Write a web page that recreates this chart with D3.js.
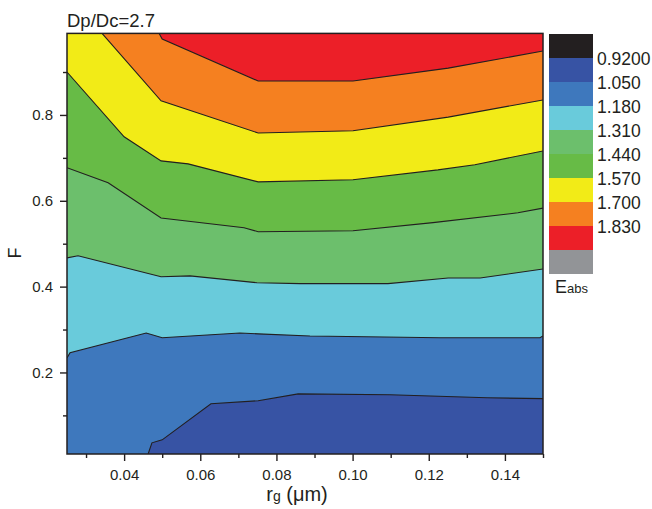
<!DOCTYPE html>
<html>
<head>
<meta charset="utf-8">
<script src="https://cdn.jsdelivr.net/npm/d3@7"></script>
<style>
  body { margin: 0; background: #fff; }
  text { font-family: "Liberation Sans", Arial, sans-serif; fill: #231f20; }
</style>
</head>
<body>
<div id="chart"></div>
<script>
// contour levels of Eabs and legend
const levels = [0.92, 1.05, 1.18, 1.31, 1.44, 1.57, 1.70, 1.83];
const levelLabels = ['0.9200', '1.050', '1.180', '1.310', '1.440', '1.570', '1.700', '1.830'];
const legendColors = ['#231f20', '#3753a4', '#3e78bd', '#69cbdb', '#6cbf6c', '#67bb46', '#f2eb17', '#f58020', '#ec1f28', '#929497'];

// contour lines, [rg (um), F]
const line105 = [[0.0463, 0.01], [0.0473, 0.036], [0.0500, 0.043], [0.0628, 0.127], [0.0752, 0.134], [0.0857, 0.150], [0.1098, 0.148], [0.1353, 0.141], [0.15, 0.139]];
const line118 = [[0.025, 0.234], [0.0258, 0.246], [0.0458, 0.292], [0.0500, 0.281], [0.0704, 0.292], [0.0752, 0.290], [0.0888, 0.285], [0.1230, 0.281], [0.1492, 0.281], [0.15, 0.285]];
const line131 = [[0.025, 0.467], [0.0279, 0.472], [0.0497, 0.423], [0.0573, 0.425], [0.0749, 0.409], [0.0862, 0.407], [0.1093, 0.407], [0.1251, 0.420], [0.1335, 0.420], [0.15, 0.441]];
const line144 = [[0.025, 0.677], [0.0358, 0.642], [0.0497, 0.560], [0.0715, 0.537], [0.0752, 0.528], [0.1001, 0.530], [0.1211, 0.549], [0.1434, 0.572], [0.15, 0.583]];
const line157 = [[0.025, 0.900], [0.0400, 0.749], [0.0497, 0.693], [0.0568, 0.686], [0.0752, 0.644], [0.1001, 0.649], [0.1224, 0.672], [0.1321, 0.684], [0.15, 0.716]];
const line170 = [[0.0342, 0.99], [0.0497, 0.833], [0.0752, 0.758], [0.1001, 0.763], [0.1251, 0.795], [0.15, 0.835]];
const line183 = [[0.0492, 0.99], [0.0500, 0.977], [0.0752, 0.879], [0.1001, 0.879], [0.1251, 0.909], [0.15, 0.949]];
const contourLines = [line105, line118, line131, line144, line157, line170, line183];

const xMajor = [0.04, 0.06, 0.08, 0.10, 0.12, 0.14];
const xMinor = [0.03, 0.05, 0.07, 0.09, 0.11, 0.13, 0.15];
const yMajor = [0.2, 0.4, 0.6, 0.8];
const yMinor = [0.1, 0.3, 0.5, 0.7, 0.9];

const xDomain = [0.025, 0.15];
const yDomain = [0.01, 0.99];

const svg = d3.select('#chart')
  .append('svg')
  .attr('width', 652)
  .attr('height', 509);

const x = d3.scaleLinear().domain(xDomain).range([67, 543]);
const y = d3.scaleLinear().domain(yDomain).range([454, 33.4]);

svg.append('clipPath')
  .attr('id', 'plot-clip')
  .append('rect')
  .attr('x', x(xDomain[0]))
  .attr('y', y(yDomain[1]))
  .attr('width', x(xDomain[1]) - x(xDomain[0]))
  .attr('height', y(yDomain[0]) - y(yDomain[1]));

const plot = svg.append('g').attr('clip-path', 'url(#plot-clip)');

// lowest band
plot.append('rect')
  .attr('x', x(xDomain[0]))
  .attr('y', y(yDomain[1]))
  .attr('width', x(xDomain[1]) - x(xDomain[0]))
  .attr('height', y(yDomain[0]) - y(yDomain[1]))
  .style('fill', legendColors[1]);

// region above each contour line, closed along the frame
const regionAbove = (pts) => {
  const start = pts[0];
  const poly = pts.slice();
  poly.push([xDomain[1], yDomain[1]]);
  if (start[1] < yDomain[1]) poly.push([xDomain[0], yDomain[1]]);
  if (start[1] <= yDomain[0] && start[0] > xDomain[0]) poly.push([xDomain[0], yDomain[0]]);
  return poly;
};

const lineGen = d3.line().x(d => x(d[0])).y(d => y(d[1]));

plot.selectAll('path.band')
  .data(contourLines)
  .enter()
  .append('path')
  .attr('class', 'band')
  .attr('d', d => lineGen(regionAbove(d)) + 'Z')
  .style('fill', (d, i) => legendColors[i + 2]);

plot.selectAll('path.contour')
  .data(contourLines)
  .enter()
  .append('path')
  .attr('class', 'contour')
  .attr('d', lineGen)
  .style('fill', 'none')
  .style('stroke', '#231f20')
  .style('stroke-width', 1.1);

// axes
svg.append('g')
  .attr('transform', `translate(0, ${y(yDomain[0])})`)
  .call(d3.axisBottom(x).tickValues(xMajor).tickFormat(d3.format('.2f')).tickSize(7).tickPadding(8));
svg.append('g')
  .attr('transform', `translate(0, ${y(yDomain[0])})`)
  .call(d3.axisBottom(x).tickValues(xMinor).tickFormat('').tickSize(4));

svg.append('g')
  .attr('transform', `translate(${x(xDomain[0])}, 0)`)
  .call(d3.axisLeft(y).tickValues(yMajor).tickFormat(d3.format('.1f')).tickSize(7).tickPadding(7));
svg.append('g')
  .attr('transform', `translate(${x(xDomain[0])}, 0)`)
  .call(d3.axisLeft(y).tickValues(yMinor).tickFormat('').tickSize(4));

svg.selectAll('.domain').remove();
svg.selectAll('.tick line').style('stroke', '#231f20').style('stroke-width', 1.4);
svg.selectAll('.tick text')
  .style('font-size', '15px')
  .style('fill', '#231f20')
  .style('font-family', '"Liberation Sans", Arial, sans-serif');

// frame
svg.append('rect')
  .attr('x', x(xDomain[0]))
  .attr('y', y(yDomain[1]))
  .attr('width', x(xDomain[1]) - x(xDomain[0]))
  .attr('height', y(yDomain[0]) - y(yDomain[1]))
  .style('fill', 'none')
  .style('stroke', '#231f20')
  .style('stroke-width', 1.5);

// titles
svg.append('text')
  .attr('x', 67)
  .attr('y', 27)
  .style('font-size', '18.5px')
  .text('Dp/Dc=2.7');

svg.append('text')
  .attr('transform', 'translate(21, 253) rotate(-90)')
  .attr('text-anchor', 'middle')
  .style('font-size', '18px')
  .text('F');

const xLabel = svg.append('text')
  .attr('x', 297)
  .attr('y', 501)
  .attr('text-anchor', 'middle')
  .style('font-size', '20px');
xLabel.append('tspan').text('r');
xLabel.append('tspan').style('font-size', '14px').text('g');
xLabel.append('tspan').text(' (\u03bcm)');

// legend
const legend = svg.append('g').attr('id', 'legend');
const ly = d3.scaleLinear().domain([0, legendColors.length]).range([34, 34 + 24 * legendColors.length]);

legend.selectAll('rect')
  .data(legendColors)
  .enter()
  .append('rect')
  .attr('x', 549)
  .attr('y', (d, i) => ly(i))
  .attr('width', 44)
  .attr('height', ly(1) - ly(0))
  .style('fill', d => d);

legend.selectAll('text.lev')
  .data(levels)
  .enter()
  .append('text')
  .attr('class', 'lev')
  .attr('x', 597)
  .attr('y', (d, i) => ly(i + 1) + 1)
  .attr('dy', '0.36em')
  .style('font-size', '17.5px')
  .text((d, i) => levelLabels[i]);

const eLabel = legend.append('text')
  .attr('x', 555)
  .attr('y', 293)
  .style('font-size', '18px');
eLabel.append('tspan').text('E');
eLabel.append('tspan').style('font-size', '13px').text('abs');
</script>
</body>
</html>
